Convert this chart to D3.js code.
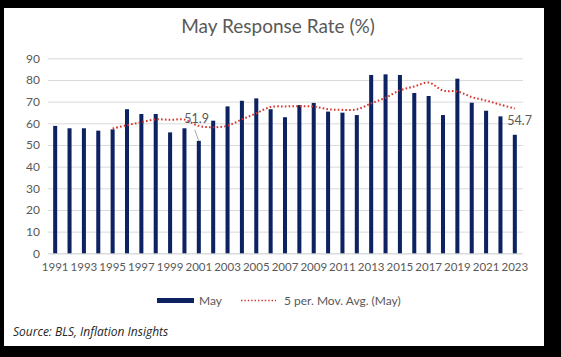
<!DOCTYPE html>
<html><head><meta charset="utf-8">
<script src="https://cdn.jsdelivr.net/npm/d3@7"></script>
<style>
html,body{margin:0;padding:0;background:#000;}
svg{display:block;font-family:Lato,"Open Sans",sans-serif;}
</style></head>
<body>
<svg id="c" width="561" height="357"></svg>
<script>
const years = d3.range(1991, 2024);
const mayValues = [58.8,57.7,57.7,56.6,57.2,66.5,64.3,64.3,55.8,57.7,51.9,61.2,67.8,70.4,71.5,66.5,62.8,68.4,69.4,65.4,64.9,63.8,82.3,82.6,82.3,74.0,72.6,63.8,80.6,69.5,65.8,63.2,54.7];
const maYears = d3.range(1995, 2024);
const maValues = [57.6,59.1,60.5,61.8,61.6,61.7,58.8,58.2,58.9,61.8,64.6,67.5,67.8,67.9,67.7,66.5,66.2,66.4,69.2,71.8,75.2,77.0,78.8,75.1,74.7,72.1,70.5,68.6,66.8];
const yTicks = [0,10,20,30,40,50,60,70,80,90];
const xTickYears = years.filter(y => (y - 1991) % 2 === 0);
const labeled = [{year:2001, value:51.9, dx:-14.5, dy:-18, lead:true},{year:2023, value:54.7, dx:-7.5, dy:-10, lead:false}];

const svg = d3.select("#c");
svg.append("rect").attr("x",4).attr("y",8).attr("width",540).attr("height",338).attr("fill","#fff");

svg.append("text").attr("x",278).attr("y",33).attr("text-anchor","middle")
  .attr("font-size",19).attr("fill","#595959").text("May Response Rate (%)");

const x = d3.scaleBand().domain(years).range([48,522]).paddingInner(0.72).paddingOuter(0.36);
const y = d3.scaleLinear().domain([0,90]).range([253.3,58.3]);

const yAxis = svg.append("g").attr("transform","translate(48,0)")
  .call(d3.axisLeft(y).tickValues(yTicks).tickSize(-475).tickPadding(8));
yAxis.select(".domain").remove();
yAxis.selectAll(".tick line").attr("stroke","#d9d9d9").attr("stroke-width",1);
yAxis.selectAll(".tick text").attr("fill","#595959").attr("font-size",12).attr("font-family","Lato, sans-serif");

const xAxis = svg.append("g").attr("transform","translate(0,253.3)")
  .call(d3.axisBottom(x).tickValues(xTickYears).tickSize(0).tickPadding(10));
xAxis.select(".domain").attr("stroke","#d9d9d9");
xAxis.selectAll(".tick text").attr("fill","#595959").attr("font-size",11.5).attr("font-family","Lato, sans-serif");

svg.append("g").selectAll("rect").data(years).join("rect")
  .attr("x", d => x(d)).attr("width", x.bandwidth())
  .attr("y", (d,i) => y(mayValues[i])).attr("height", (d,i) => y(0) - y(mayValues[i]))
  .attr("fill","#0c2261");

const line = d3.line().x((d,i) => x(maYears[i]) + x.bandwidth()/2).y(d => y(d)).curve(d3.curveCatmullRom);
svg.append("path").datum(maValues).attr("d", line).attr("fill","none")
  .attr("stroke","#d9342b").attr("stroke-width",2).attr("stroke-dasharray","1.6 2.2");

labeled.forEach(l => {
  const cx = x(l.year) + x.bandwidth()/2, cy = y(l.value);
  if (l.lead) {
    svg.append("line").attr("x1",cx-4).attr("y1",cy-11).attr("x2",cx).attr("y2",cy)
      .attr("stroke","#a6a6a6").attr("stroke-width",1);
  }
  svg.append("text").attr("x", cx + l.dx).attr("y", cy + l.dy).attr("text-anchor","start")
    .attr("font-size",12.5).attr("fill","#595959").text(l.value.toFixed(1));
});

const lg = svg.append("g");
lg.append("rect").attr("x",157).attr("y",298).attr("width",37).attr("height",5).attr("fill","#0c2261");
lg.append("text").attr("x",199).attr("y",305).attr("font-size",12).attr("fill","#595959").text("May");
lg.append("line").attr("x1",241).attr("x2",276).attr("y1",300.5).attr("y2",300.5)
  .attr("stroke","#d9342b").attr("stroke-width",1.6).attr("stroke-dasharray","1.4 2");
lg.append("text").attr("x",284).attr("y",305).attr("font-size",12).attr("fill","#595959").text("5 per. Mov. Avg. (May)");

svg.append("text").attr("x",13).attr("y",336).attr("font-size",12).attr("font-style","italic")
  .attr("font-weight",400).attr("font-family","'Open Sans', sans-serif")
  .attr("fill","#262626").text("Source: BLS, Inflation Insights");
</script>
</body></html>
